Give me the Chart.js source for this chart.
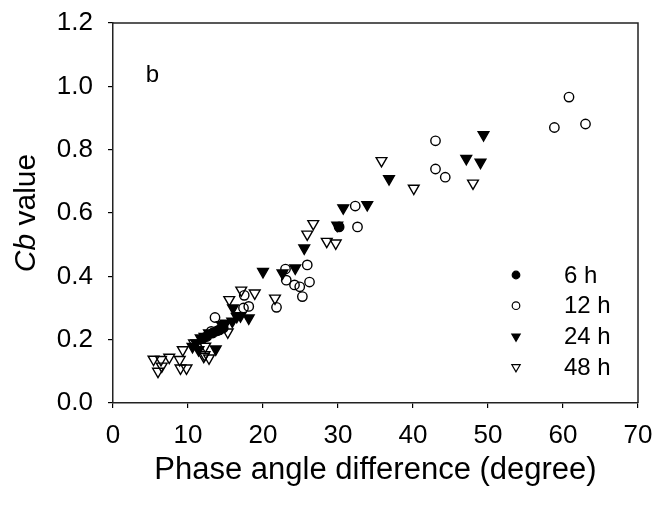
<!DOCTYPE html>
<html><head><meta charset="utf-8">
<script src="https://cdn.jsdelivr.net/npm/chart.js@4/dist/chart.umd.min.js"></script>
<style>html,body{margin:0;padding:0;background:#fff}#wrap{width:656px;height:505px}</style>
</head><body><div id="wrap"><canvas id="c" width="656" height="505"></canvas></div>
<script>
// ---- data (x: phase angle difference, y: Cb value) ----
const seriesNames = ['6 h', '12 h', '24 h', '48 h'];
const h6 = [[30.15,0.556],[12.0,0.205],[12.5,0.210],[13.3,0.221],[13.9,0.228],[14.2,0.231],[14.7,0.237]];
const h12 = [[60.8,0.966],[58.85,0.870],[63.0,0.881],[43.0,0.828],[43.0,0.739],[44.3,0.713],[32.3,0.622],[32.6,0.556],
  [25.9,0.436],[26.2,0.382],[23.0,0.423],[23.1,0.388],[24.2,0.373],[24.9,0.367],[25.25,0.336],[21.8,0.302],
  [18.1,0.305],[17.4,0.300],[17.5,0.340],[13.6,0.270],[13.1,0.226]];
const h24 = [[49.4,0.847],[47.1,0.772],[49.0,0.760],[36.8,0.708],[33.9,0.626],[30.7,0.616],[29.9,0.561],[25.5,0.489],
  [24.3,0.426],[22.6,0.410],[20.0,0.415],[16.0,0.300],[16.5,0.273],[17.0,0.275],[18.1,0.268],[13.7,0.170],
  [15.0,0.252],[15.9,0.258],[14.5,0.247],[12.8,0.221],[12.2,0.210],[11.7,0.205],[11.1,0.189],[10.6,0.178],[11.4,0.168]];
const h48 = [[5.4,0.138],[6.4,0.137],[7.5,0.144],[6.0,0.100],[6.5,0.116],[8.9,0.137],[9.0,0.110],[9.8,0.110],
  [9.3,0.168],[10.8,0.189],[12.2,0.152],[12.3,0.179],[12.8,0.142],[12.1,0.147],[15.3,0.224],[15.5,0.326],
  [17.1,0.356],[18.9,0.347],[21.6,0.331],[25.9,0.533],[26.7,0.566],[28.5,0.510],[29.7,0.505],[35.8,0.765],
  [40.1,0.678],[48.0,0.694]];
const xTicks = [0, 10, 20, 30, 40, 50, 60, 70];
const yTicks = [0, 0.2, 0.4, 0.6, 0.8, 1.0, 1.2];
const panelLabel = 'b';
const panelLabelPos = [5.25, 1.035];

const FONT = '"Liberation Sans", Arial, Helvetica, sans-serif';
const toPts = arr => arr.map(p => ({x: p[0], y: p[1]}));

const styles = [
  {pointStyle: 'circle', rotation: 0, radius: 4.7, fill: '#000'},
  {pointStyle: 'circle', rotation: 0, radius: 4.7, fill: 'rgba(255,255,255,0)'},
  {pointStyle: 'triangle', rotation: 180, radius: 6.2, fill: '#000'},
  {pointStyle: 'triangle', rotation: 180, radius: 6.2, fill: 'rgba(255,255,255,0)'}
];
const allData = [h6, h12, h24, h48];

const datasets = allData.map((d, i) => ({
  label: seriesNames[i],
  data: toPts(d),
  pointStyle: styles[i].pointStyle,
  rotation: styles[i].rotation,
  pointRadius: styles[i].radius,
  pointHoverRadius: styles[i].radius,
  pointBackgroundColor: styles[i].fill,
  pointBorderColor: '#000',
  pointBorderWidth: 1.4,
  showLine: false
}));

const extras = {
  id: 'extras',
  beforeDatasetsDraw(chart) {
    const {ctx, chartArea: a} = chart;
    ctx.save();
    ctx.strokeStyle = '#222';
    ctx.lineWidth = 1.5;
    ctx.beginPath();
    ctx.moveTo(a.left, a.top);
    ctx.lineTo(a.right, a.top);
    ctx.lineTo(a.right, a.bottom);
    ctx.stroke();
    ctx.restore();
  },
  afterDraw(chart) {
    const {ctx, chartArea: a, scales} = chart;
    ctx.save();
    // panel label
    ctx.fillStyle = '#000';
    ctx.font = '24px ' + FONT;
    ctx.textAlign = 'center';
    ctx.textBaseline = 'middle';
    ctx.fillText(panelLabel, scales.x.getPixelForValue(panelLabelPos[0]), scales.y.getPixelForValue(panelLabelPos[1]));
    // legend
    const lx = 516, ly0 = 275, dy = 30.7;
    seriesNames.forEach((name, i) => {
      const y = ly0 + dy * i;
      ctx.fillStyle = styles[i].fill;
      ctx.strokeStyle = '#000';
      ctx.lineWidth = 1.2;
      Chart.helpers.drawPoint(ctx, {
        pointStyle: styles[i].pointStyle,
        rotation: styles[i].rotation,
        radius: styles[i].pointStyle === 'circle' ? 3.8 : 4.8,
        borderWidth: 1.2
      }, lx, y);
      ctx.fillStyle = '#000';
      ctx.font = '24px ' + FONT;
      ctx.textAlign = 'left';
      ctx.textBaseline = 'middle';
      ctx.fillText(name, 564, y + 1);
    });
    // y axis title: italic "Cb" + " value"
    ctx.translate(27, (a.top + a.bottom) / 2);
    ctx.rotate(-Math.PI / 2);
    const f1 = 'italic 30px ' + FONT, f2 = '30px ' + FONT;
    ctx.font = f1; const w1 = ctx.measureText('Cb').width;
    ctx.font = f2; const w2 = ctx.measureText(' value').width;
    const start = -(w1 + w2) / 2;
    ctx.textAlign = 'left';
    ctx.textBaseline = 'middle';
    ctx.font = f1; ctx.fillText('Cb', start, 0);
    ctx.font = f2; ctx.fillText(' value', start + w1, 0);
    ctx.restore();
  }
};

new Chart(document.getElementById('c'), {
  type: 'scatter',
  data: {datasets},
  options: {
    responsive: false,
    animation: false,
    devicePixelRatio: 1,
    layout: {padding: {top: 23, right: 18, left: 0, bottom: 0}},
    plugins: {legend: {display: false}, tooltip: {enabled: false}},
    scales: {
      x: {
        type: 'linear', min: 0, max: 70,
        afterBuildTicks: s => { s.ticks = xTicks.map(v => ({value: v})); },
        afterFit: s => { s.height = 102; s.paddingLeft = 0; s.paddingRight = 0; },
        grid: {display: true, drawOnChartArea: false, drawTicks: true, tickLength: 5, color: '#000', lineWidth: 1.2},
        border: {display: true, color: '#222', width: 1.5},
        ticks: {color: '#000', font: {size: 26, family: FONT}, padding: 12, maxRotation: 0, autoSkip: false},
        title: {display: true, text: 'Phase angle difference (degree)', color: '#000',
          font: {size: 31, family: FONT}, padding: {top: 0, bottom: 16}}
      },
      y: {
        type: 'linear', min: 0, max: 1.2,
        afterBuildTicks: s => { s.ticks = yTicks.map(v => ({value: v})); },
        afterFit: s => { s.width = 113; s.paddingTop = 0; s.paddingBottom = 0; },
        grid: {display: true, drawOnChartArea: false, drawTicks: true, tickLength: 5, color: '#000', lineWidth: 1.2},
        border: {display: true, color: '#222', width: 1.5},
        ticks: {color: '#000', font: {size: 26, family: FONT}, padding: 15, autoSkip: false,
          callback: v => Number(v).toFixed(1)},
        title: {display: false}
      }
    }
  },
  plugins: [extras]
});
</script></body></html>
